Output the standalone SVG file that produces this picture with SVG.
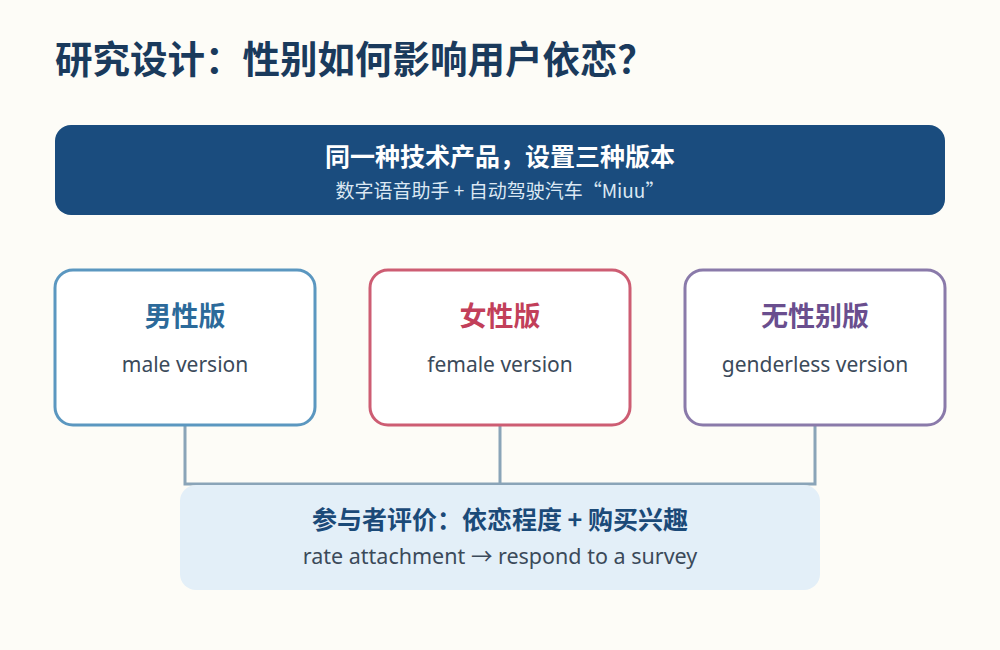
<svg xmlns="http://www.w3.org/2000/svg" width="1000" height="650" viewBox="0 0 1000 650">
<style>
text{font-family:"Noto Sans","Noto Sans CJK SC",sans-serif;}
.cjk{font-family:"Noto Sans CJK SC","Noto Sans",sans-serif;}
.ver{fill:#ffffff;stroke-width:3;}
.vt{font-size:27px;font-weight:700;text-anchor:middle;}
.vs{font-size:21px;fill:#3b4a5a;text-anchor:middle;}
.conn{stroke:#8aa4b8;stroke-width:3;fill:none;}
</style>
<rect width="1000" height="650" fill="#fdfcf7"/>
<text class="cjk" x="55" y="73" font-size="37.5" font-weight="700" fill="#1a3a5c">研究设计：性别如何影响用户依恋？</text>
<g id="banner">
<rect x="55" y="125" width="890" height="90" rx="16" fill="#1a4c7e"/>
<text class="cjk" x="500" y="166" font-size="25" font-weight="700" fill="#ffffff" text-anchor="middle">同一种技术产品，设置三种版本</text>
<text class="cjk" x="500" y="198" font-size="19" fill="#dce8f3" text-anchor="middle">数字语音助手 + 自动驾驶汽车“Miuu”</text>
</g>
<g id="connectors">
<path class="conn" d="M185 425 V484 H815 V425 M500 425 V484"/>
</g>
<g id="male">
<rect class="ver" x="55" y="270" width="260" height="155" rx="18" stroke="#5b97c0"/>
<text class="vt cjk" x="185" y="326" fill="#2c6a9a">男性版</text>
<text class="vs" x="185" y="372">male version</text>
</g>
<g id="female">
<rect class="ver" x="370" y="270" width="260" height="155" rx="18" stroke="#cd5d73"/>
<text class="vt cjk" x="500" y="326" fill="#c23f5a">女性版</text>
<text class="vs" x="500" y="372">female version</text>
</g>
<g id="genderless">
<rect class="ver" x="685" y="270" width="260" height="155" rx="18" stroke="#8a7aaa"/>
<text class="vt cjk" x="815" y="326" fill="#6a4e8e">无性别版</text>
<text class="vs" x="815" y="372">genderless version</text>
</g>
<g id="evaluation">
<rect x="180" y="485" width="640" height="105" rx="16" fill="#e3eff8"/>
<text class="cjk" x="500" y="529" font-size="25" font-weight="700" fill="#1b4a78" text-anchor="middle">参与者评价：依恋程度 + 购买兴趣</text>
<text class="vs" x="500" y="564" style="font-size:21.5px">rate attachment → respond to a survey</text>
</g>
</svg>
